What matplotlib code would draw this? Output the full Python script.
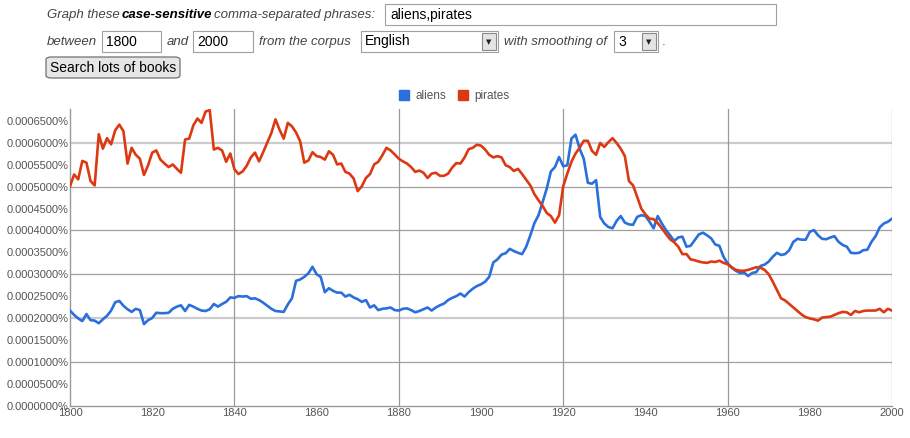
import numpy as np
import matplotlib
matplotlib.use("Agg")
import matplotlib.pyplot as plt
from matplotlib.patches import Rectangle, FancyBboxPatch
from matplotlib.ticker import FuncFormatter, MultipleLocator

# Yearly values, in units of 0.0001 %
years = np.arange(1800, 2001)
aliens = np.array([
    2.17, 2.07, 1.99, 1.93, 2.09, 1.95, 1.94, 1.88, 1.97, 2.05,
    2.17, 2.36, 2.39, 2.28, 2.20, 2.14, 2.21, 2.18, 1.86, 1.95,
    2.00, 2.12, 2.11, 2.11, 2.12, 2.21, 2.26, 2.29, 2.16, 2.30,
    2.26, 2.21, 2.17, 2.16, 2.20, 2.32, 2.26, 2.32, 2.37, 2.47,
    2.46, 2.50, 2.49, 2.50, 2.44, 2.45, 2.41, 2.35, 2.28, 2.21,
    2.16, 2.15, 2.14, 2.31, 2.45, 2.85, 2.88, 2.94, 3.02, 3.17,
    3.00, 2.94, 2.59, 2.68, 2.62, 2.58, 2.58, 2.49, 2.53, 2.47,
    2.43, 2.37, 2.41, 2.24, 2.29, 2.18, 2.21, 2.22, 2.24, 2.18,
    2.17, 2.21, 2.22, 2.18, 2.13, 2.16, 2.20, 2.24, 2.17, 2.24,
    2.29, 2.33, 2.41, 2.46, 2.50, 2.56, 2.49, 2.59, 2.67, 2.73,
    2.77, 2.83, 2.94, 3.27, 3.34, 3.45, 3.48, 3.58, 3.53, 3.49,
    3.46, 3.63, 3.89, 4.17, 4.35, 4.65, 4.96, 5.35, 5.45, 5.68,
    5.47, 5.49, 6.10, 6.19, 5.87, 5.64, 5.09, 5.07, 5.15, 4.31,
    4.16, 4.08, 4.05, 4.22, 4.33, 4.18, 4.14, 4.13, 4.31, 4.35,
    4.33, 4.20, 4.05, 4.33, 4.16, 4.01, 3.89, 3.76, 3.84, 3.86,
    3.63, 3.65, 3.78, 3.91, 3.95, 3.89, 3.82, 3.68, 3.65, 3.40,
    3.25, 3.15, 3.08, 3.03, 3.04, 2.96, 3.03, 3.05, 3.19, 3.22,
    3.29, 3.40, 3.49, 3.44, 3.46, 3.55, 3.74, 3.81, 3.79, 3.79,
    3.97, 4.01, 3.89, 3.81, 3.80, 3.84, 3.87, 3.74, 3.67, 3.63,
    3.49, 3.48, 3.49, 3.55, 3.56, 3.74, 3.87, 4.07, 4.16, 4.20,
    4.27,
]) * 1e-4
pirates = np.array([
    5.01, 5.28, 5.17, 5.59, 5.55, 5.13, 5.03, 6.20, 5.87, 6.11,
    5.97, 6.29, 6.42, 6.27, 5.53, 5.89, 5.73, 5.64, 5.27, 5.49,
    5.78, 5.83, 5.62, 5.53, 5.45, 5.51, 5.41, 5.32, 6.08, 6.10,
    6.40, 6.56, 6.46, 6.72, 6.75, 5.85, 5.89, 5.83, 5.57, 5.76,
    5.40, 5.29, 5.35, 5.48, 5.67, 5.78, 5.58, 5.79, 6.01, 6.23,
    6.54, 6.30, 6.10, 6.46, 6.38, 6.24, 6.04, 5.55, 5.60, 5.79,
    5.70, 5.68, 5.62, 5.81, 5.73, 5.51, 5.53, 5.34, 5.30, 5.19,
    4.90, 5.01, 5.20, 5.29, 5.51, 5.57, 5.72, 5.89, 5.83, 5.74,
    5.64, 5.58, 5.53, 5.45, 5.34, 5.37, 5.32, 5.20, 5.30, 5.32,
    5.25, 5.25, 5.30, 5.44, 5.54, 5.53, 5.67, 5.86, 5.89, 5.96,
    5.94, 5.85, 5.73, 5.67, 5.70, 5.67, 5.49, 5.45, 5.36, 5.41,
    5.29, 5.16, 5.03, 4.83, 4.69, 4.56, 4.40, 4.33, 4.18, 4.35,
    5.01, 5.30, 5.57, 5.76, 5.89, 6.05, 6.05, 5.82, 5.73, 6.00,
    5.91, 6.02, 6.11, 6.00, 5.87, 5.70, 5.13, 5.03, 4.77, 4.50,
    4.37, 4.27, 4.26, 4.17, 4.05, 3.92, 3.80, 3.73, 3.63, 3.46,
    3.46, 3.34, 3.32, 3.29, 3.27, 3.26, 3.29, 3.28, 3.31, 3.26,
    3.23, 3.16, 3.10, 3.08, 3.08, 3.10, 3.13, 3.16, 3.15, 3.10,
    3.00, 2.83, 2.64, 2.45, 2.40, 2.32, 2.24, 2.16, 2.08, 2.02,
    1.99, 1.97, 1.94, 2.01, 2.02, 2.03, 2.07, 2.11, 2.14, 2.13,
    2.07, 2.16, 2.13, 2.16, 2.17, 2.17, 2.17, 2.21, 2.13, 2.21,
    2.17,
]) * 1e-4

series_names = ["aliens", "pirates"]
series_colors = ["#2a6fdb", "#dc3912"]

W, H = 910, 438
fig = plt.figure(figsize=(W / 100, H / 100), dpi=100)
fig.patch.set_facecolor("white")

form_font = ["Liberation Sans Narrow", "Liberation Sans", "DejaVu Sans"]
label_font = ["Liberation Sans", "DejaVu Sans"]


def px(x, y):
    # pixel coords (top-left origin) -> figure fraction
    return x / W, 1 - y / H


def box(x0, y0, x1, y1, face="white", edge="#a0a0a0"):
    fx, fy = px(x0, y1)
    fig.patches.append(Rectangle((fx, fy), (x1 - x0) / W, (y1 - y0) / H,
                                 transform=fig.transFigure, facecolor=face,
                                 edgecolor=edge, linewidth=0.8))


def ftext(x, y, s, **kw):
    fx, fy = px(x, y)
    kw.setdefault("family", form_font)
    kw.setdefault("fontsize", 9.5)
    kw.setdefault("color", "#444444")
    kw.setdefault("va", "center")
    fig.text(fx, fy, s, **kw)


def dropdown(x0, x1, y0, y1, label):
    box(x0, y0, x1, y1)
    box(x1 - 16, y0 + 2, x1 - 2, y1 - 2, face="#e4e4e4", edge="#8a8a8a")
    ax_, ay_ = px(x1 - 9, (y0 + y1) / 2 + 1)
    fig.text(ax_, ay_, "\u25bc", fontsize=5, ha="center", va="center", color="#222222")
    ftext(x0 + 4, (y0 + y1) / 2, label, color="black", fontsize=10)


# ---- form row 1
ftext(47, 15, "Graph these", style="italic")
ftext(122, 15, "case-sensitive", style="italic", weight="bold", color="black")
ftext(214, 15, "comma-separated phrases:", style="italic")
box(385, 4, 776, 25)
ftext(390, 15, "aliens,pirates", color="black", fontsize=10)

# ---- form row 2
ftext(47, 42, "between", style="italic")
box(102, 31, 161, 52)
ftext(106, 42, "1800", color="black", fontsize=10)
ftext(167, 42, "and", style="italic")
box(193, 31, 253, 52)
ftext(197, 42, "2000", color="black", fontsize=10)
ftext(259, 42, "from the corpus", style="italic")
dropdown(361, 498, 31, 52, "English")
ftext(504, 42, "with smoothing of", style="italic")
dropdown(614, 658, 31, 52, "3")
ftext(662, 42, ".")

# ---- button
bx, by = px(46, 78)
fig.patches.append(FancyBboxPatch((bx, by), 134 / W, 21 / H,
                                  boxstyle="round,pad=0,rounding_size=0.006",
                                  transform=fig.transFigure, facecolor="#e6e6e6",
                                  edgecolor="#707070", linewidth=0.9))
ftext(113, 68, "Search lots of books", ha="center", color="black", fontsize=10)

# ---- chart
ax = fig.add_axes([70 / W, 32.5 / H, 822 / W, 296.5 / H])
ax.set_xlim(1800, 2000)
ax.set_ylim(0, 0.0006777)

for gy in [0.0001, 0.0002, 0.0003, 0.0004, 0.0005, 0.0006]:
    light = gy in (0.0002, 0.0006)
    ax.axhline(gy, color="#cccccc" if light else "#a0a0a0",
               lw=1.6 if light else 0.9, zorder=1)
for gx in [1840, 1880, 1920, 1960, 2000]:
    ax.axvline(gx, color="#999999", lw=0.9, zorder=1)

for name, vals, col in zip(series_names, [aliens, pirates], series_colors):
    ax.plot(years, vals, color=col, lw=1.9, label=name, zorder=3,
            solid_joinstyle="round")

for side in ["top", "right"]:
    ax.spines[side].set_visible(False)
for side in ["left", "bottom"]:
    ax.spines[side].set_color("#999999")
    ax.spines[side].set_linewidth(1.0)

ax.xaxis.set_major_locator(MultipleLocator(20))
ax.yaxis.set_major_locator(MultipleLocator(0.00005))
ax.yaxis.set_major_formatter(FuncFormatter(lambda v, p: f"{v:.7f}%"))
ax.tick_params(length=0, labelsize=8, labelcolor="#555555", pad=1)
ax.tick_params(axis="x", pad=2)
for lab in ax.get_xticklabels() + ax.get_yticklabels():
    lab.set_family(label_font)

# legend
leg = fig.legend(handles=[Rectangle((0, 0), 1, 1, color=c) for c in series_colors],
                 labels=series_names, loc="center", bbox_to_anchor=(454 / W, 1 - 96 / H),
                 ncol=2, frameon=False, handlelength=0.9, handleheight=0.9,
                 handletextpad=0.5, columnspacing=1.0,
                 prop={"family": label_font, "size": 8.5})
for t in leg.get_texts():
    t.set_color("#555555")

fig.savefig("out.png", dpi=100)
